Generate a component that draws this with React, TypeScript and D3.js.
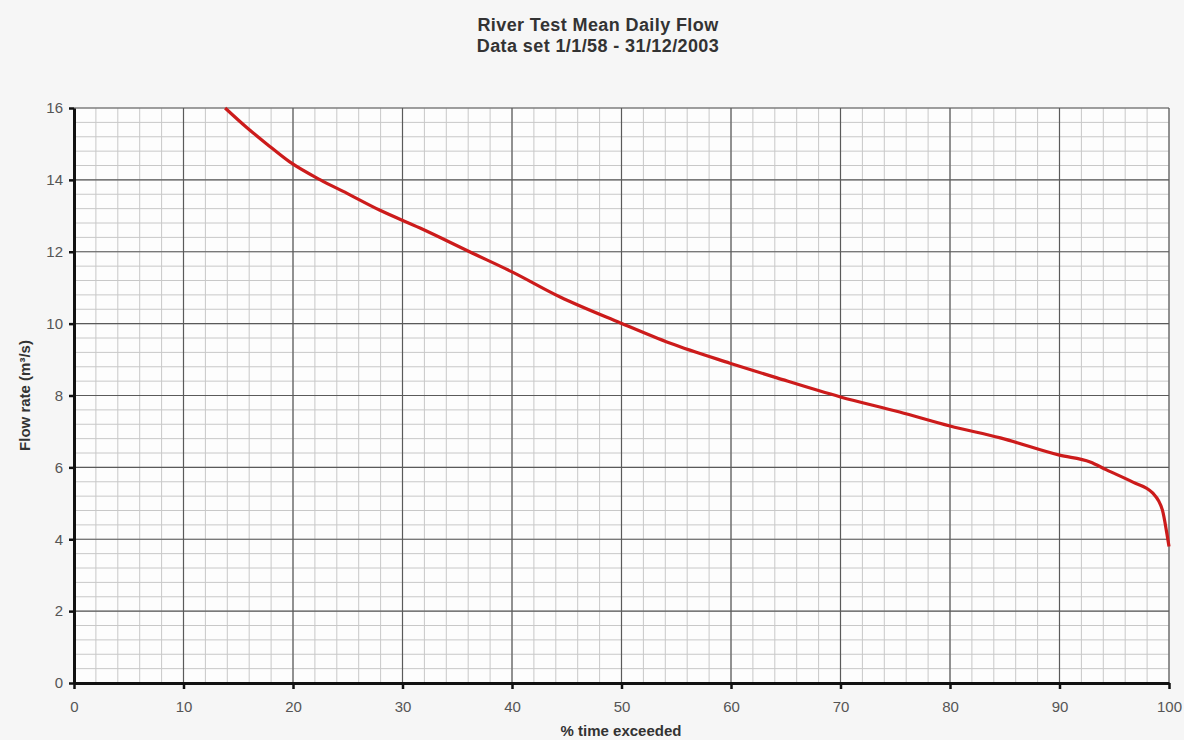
import React, { useEffect, useRef } from "react";
import * as d3 from "d3";

// flow duration curve
const pctExceeded = [13.8, 15.8, 17.6, 19.7, 22.5, 24.9, 27.9, 31.6, 36.4, 40.0, 44.4, 49.9, 54.4, 59.9, 64.2, 70.0, 75.4, 80.0, 84.6, 90.0, 92.8, 94.3, 96.7, 98.5, 99.4, 99.8, 100];
const flowRate = [16.0, 15.45, 15.0, 14.5, 14.0, 13.63, 13.16, 12.66, 11.96, 11.44, 10.74, 10.02, 9.46, 8.9, 8.49, 7.96, 7.54, 7.15, 6.82, 6.34, 6.15, 5.93, 5.59, 5.29, 4.81, 4.17, 3.8];

const xTicks = [0, 10, 20, 30, 40, 50, 60, 70, 80, 90, 100];
const yTicks = [0, 2, 4, 6, 8, 10, 12, 14, 16];
const titleLines = ["River Test Mean Daily Flow", "Data set 1/1/58 - 31/12/2003"];

const font = "'Liberation Sans', Arial, sans-serif";

export default function App() {
  const ref = useRef<SVGSVGElement>(null);

  useEffect(() => {
    const width = 1184;
    const height = 740;
    const margin = { top: 108, right: 15, bottom: 57, left: 74 };
    const innerWidth = width - margin.left - margin.right;
    const innerHeight = height - margin.top - margin.bottom;

    const svg = d3.select(ref.current);
    svg.selectAll("*").remove();

    svg.append("rect").attr("width", width).attr("height", height).attr("fill", "#f6f6f6");

    const g = svg.append("g").attr("transform", `translate(${margin.left}, ${margin.top})`);

    const xScale = d3.scaleLinear().domain([0, 100]).range([0, innerWidth]);
    const yScale = d3.scaleLinear().domain([0, 16]).range([innerHeight, 0]);

    g.append("rect").attr("width", innerWidth).attr("height", innerHeight).attr("fill", "#fdfdfd");

    // minor grid (graph paper)
    const xMinor = d3.range(0, 100.01, 2);
    const yMinor = d3.range(0, 16.01, 0.4);
    g.append("g").selectAll("line").data(xMinor).join("line")
      .attr("x1", d => xScale(d)).attr("x2", d => xScale(d))
      .attr("y1", 0).attr("y2", innerHeight)
      .attr("stroke", "#c8c8c8").attr("stroke-width", 1);
    g.append("g").selectAll("line").data(yMinor).join("line")
      .attr("y1", d => yScale(d)).attr("y2", d => yScale(d))
      .attr("x1", 0).attr("x2", innerWidth)
      .attr("stroke", "#c8c8c8").attr("stroke-width", 1);

    // major grid
    g.append("g").selectAll("line").data(xTicks).join("line")
      .attr("x1", d => xScale(d)).attr("x2", d => xScale(d))
      .attr("y1", 0).attr("y2", innerHeight)
      .attr("stroke", "#5a5a5a").attr("stroke-width", 1.2);
    g.append("g").selectAll("line").data(yTicks).join("line")
      .attr("y1", d => yScale(d)).attr("y2", d => yScale(d))
      .attr("x1", 0).attr("x2", innerWidth)
      .attr("stroke", "#5a5a5a").attr("stroke-width", 1.2);

    // axes
    const xAxis = d3.axisBottom(xScale).tickValues(xTicks).tickSize(6).tickSizeOuter(0).tickPadding(12);
    const yAxis = d3.axisLeft(yScale).tickValues(yTicks).tickSize(5).tickSizeOuter(0).tickPadding(6);

    const gx = g.append("g").attr("transform", `translate(0, ${innerHeight})`).call(xAxis);
    const gy = g.append("g").call(yAxis);
    [gx, gy].forEach(a => {
      a.select(".domain").attr("stroke", "#111").attr("stroke-width", 3);
      a.selectAll(".tick line").attr("stroke", "#111").attr("stroke-width", 2.5);
      a.selectAll(".tick text")
        .attr("fill", "#555")
        .style("font-family", font)
        .style("font-size", "15px");
    });

    // the curve
    const pts = pctExceeded.map((p, i) => [p, flowRate[i]] as [number, number]);
    const line = d3.line<[number, number]>()
      .x(d => xScale(d[0]))
      .y(d => yScale(d[1]))
      .curve(d3.curveMonotoneX);
    g.append("path")
      .datum(pts)
      .attr("d", line)
      .attr("fill", "none")
      .attr("stroke", "#cc1b1b")
      .attr("stroke-width", 3.2)
      .attr("stroke-linejoin", "round");

    // Labels
    svg.append("g").selectAll("text").data(titleLines).join("text")
      .attr("x", 598)
      .attr("y", (d, i) => 31 + i * 21)
      .attr("text-anchor", "middle")
      .attr("fill", "#333")
      .style("font-family", font)
      .style("font-size", "18px")
      .style("letter-spacing", "0.4px")
      .style("font-weight", "bold")
      .text(d => d);

    svg.append("text")
      .attr("x", -(margin.top + innerHeight / 2))
      .attr("y", 30)
      .attr("transform", "rotate(-90)")
      .attr("text-anchor", "middle")
      .attr("fill", "#333")
      .style("font-family", font)
      .style("font-size", "15px")
      .style("font-weight", "bold")
      .text("Flow rate (m³/s)");

    svg.append("text")
      .attr("x", 621)
      .attr("y", 736)
      .attr("text-anchor", "middle")
      .attr("fill", "#333")
      .style("font-family", font)
      .style("font-size", "15px")
      .style("font-weight", "bold")
      .text("% time exceeded");
  }, []);

  return (
    <svg ref={ref} width={1184} height={740} style={{ position: "absolute", left: 0, top: 0 }} />
  );
}
